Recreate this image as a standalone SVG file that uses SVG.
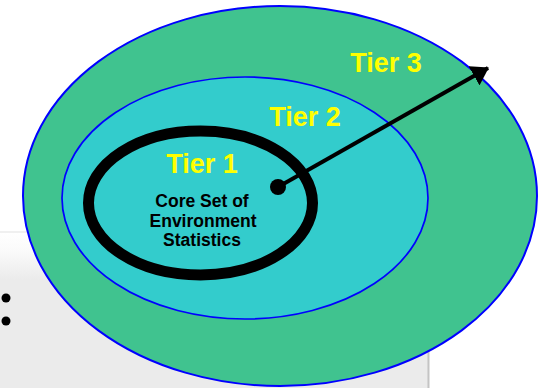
<svg xmlns="http://www.w3.org/2000/svg" width="539" height="388" viewBox="0 0 539 388">
  <defs>
    <linearGradient id="panel" x1="0" y1="0" x2="0" y2="1">
      <stop offset="0" stop-color="#FFFFFF"/>
      <stop offset="0.12" stop-color="#FAFAFA"/>
      <stop offset="0.3" stop-color="#EBEBEB"/>
      <stop offset="1" stop-color="#EBEBEB"/>
    </linearGradient>
    <marker id="head" markerWidth="17" markerHeight="22" refX="16" refY="11" orient="auto" markerUnits="userSpaceOnUse">
      <path d="M0,0 L17,11 L0,22 Z" fill="#000"/>
    </marker>
  </defs>
  <style>
    .tier { font-family: "Liberation Sans", Arial, sans-serif; font-weight: bold; font-size: 27px; fill: #FFFF00; text-anchor: middle; }
    .core { font-family: "Liberation Sans", Arial, sans-serif; font-weight: bold; font-size: 17.5px; fill: #000; text-anchor: middle; }
    .ring { stroke: #0000FF; }
  </style>
  <rect width="539" height="388" fill="#FFFFFF"/>
  <g id="panel-bg">
    <rect x="-2" y="232" width="430" height="160" fill="url(#panel)" stroke="#E2E2E2" stroke-width="1"/>
    <line x1="428.5" y1="232" x2="428.5" y2="388" stroke="#C4C4C4" stroke-width="2"/>
    <circle cx="6" cy="298" r="4.5" fill="#000"/>
    <circle cx="6" cy="321" r="4.5" fill="#000"/>
  </g>
  <g id="tier3">
    <ellipse class="ring" cx="280" cy="196" rx="257" ry="190" fill="#40C38F" stroke-width="2"/>
    <text class="tier" x="386" y="72">Tier 3</text>
  </g>
  <g id="tier2">
    <ellipse class="ring" cx="245" cy="198" rx="183" ry="121" fill="#33CCCC" stroke-width="1.7"/>
    <text class="tier" x="305" y="126">Tier 2</text>
  </g>
  <g id="tier1">
    <ellipse cx="200.5" cy="203" rx="112" ry="72" fill="#33CCCC" stroke="#000" stroke-width="11"/>
    <text class="tier" x="202" y="173">Tier 1</text>
    <text class="core" x="202" y="207">Core Set of</text>
    <text class="core" x="203" y="227">Environment</text>
    <text class="core" x="202" y="246">Statistics</text>
  </g>
  <g id="connectors">
    <circle cx="278" cy="187" r="8" fill="#000"/>
    <line x1="278" y1="187" x2="488" y2="68" stroke="#000" stroke-width="4" marker-end="url(#head)"/>
  </g>
</svg>
